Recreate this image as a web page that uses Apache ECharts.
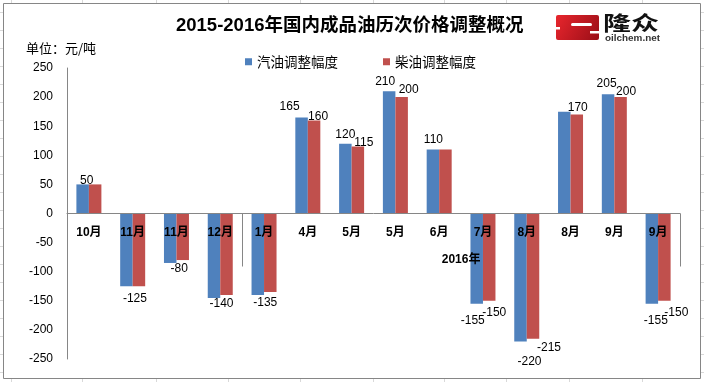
<!DOCTYPE html>
<html>
<head>
<meta charset="utf-8">
<script src="https://cdn.jsdelivr.net/npm/echarts@6/dist/echarts.min.js"></script>
<style>
  html, body { margin: 0; padding: 0; background: #fff; }
  #chart { width: 704px; height: 382px; }
</style>
</head>
<body>
<div id="chart"></div>
<script>
// ---- data ----
var categories = ['10月', '11月', '11月', '12月', '1月', '4月', '5月', '5月', '6月', '7月', '8月', '8月', '9月', '9月'];
var gasoline = [50, -125, -85, -145, -140, 165, 120, 210, 110, -155, -220, 175, 205, -155];
var diesel = [50, -125, -80, -140, -135, 160, 115, 200, 110, -150, -215, 170, 200, -150];
var yTicks = [-250, -200, -150, -100, -50, 0, 50, 100, 150, 200, 250];
var groupLabel = '2016年';
var groupBoundaries = [4, 14];
var groupLabelPos = [9];

// ---- label placement (style only): index -> [dx, distance] ----
var gasLabelPlace = {0: [4, 0], 1: [8.5, 4], 5: [-12, 7], 6: [0, 5], 7: [-4, 6], 8: [0.5, 6],
  9: [-4, 9], 10: [9, 12], 12: [-1.5, 7], 13: [4, 9]};
var dieselLabelPlace = {2: [-3.5, 1], 3: [-5, 1], 4: [-5, 3], 5: [4, 0], 6: [6, 0], 7: [7, 3],
  9: [5, 4], 10: [16, 1], 11: [1, 3], 12: [5.5, 1], 13: [12, 4]};

var numFont = "'Liberation Sans', 'Noto Sans CJK SC', sans-serif";
var cjkFont = "'Noto Sans CJK SC', 'Liberation Sans', sans-serif";

// plot geometry (style)
var G = { left: 67, right: 24, top: 68, bottom: 23, h: 382 };
var yMin = yTicks[0], yMax = yTicks[yTicks.length - 1];
var plotH = G.h - G.top - G.bottom;
var zeroY = G.top + plotH * (yMax / (yMax - yMin));

function buildSeriesData(values, place) {
  return values.map(function (v, i) {
    var p = place[i];
    if (!p) return { value: v, label: { show: false } };
    return {
      value: v,
      label: {
        show: true,
        position: v < 0 ? 'bottom' : 'top',
        distance: p[1],
        offset: [p[0], 2]
      }
    };
  });
}

var chart = echarts.init(document.getElementById('chart'), null, { renderer: 'canvas' });

// spreadsheet cell lines behind the chart area
var bgGraphics = [];
var colXs = [11, 82, 156, 228, 300, 373, 444, 506, 569, 642];
colXs.forEach(function (x) {
  bgGraphics.push({ type: 'line', z: -20, silent: true,
    shape: { x1: x + 0.5, y1: 0, x2: x + 0.5, y2: 382 }, style: { stroke: '#d9d9d9', lineWidth: 1 } });
});
for (var y = 12; y < 382; y += 18) {
  bgGraphics.push({ type: 'line', z: -20, silent: true,
    shape: { x1: 0, y1: y + 0.5, x2: 704, y2: y + 0.5 }, style: { stroke: '#d9d9d9', lineWidth: 1 } });
}
bgGraphics.push({ type: 'rect', z: -10, silent: true,
  shape: { x: 3.5, y: 3.5, width: 697, height: 375 },
  style: { fill: '#ffffff', stroke: '#868686', lineWidth: 1 } });

// logo
bgGraphics.push({
  type: 'group', z: 5, silent: true,
  children: [
    { type: 'rect', shape: { x: 556, y: 15, width: 43, height: 25, r: 2 },
      style: { fill: new echarts.graphic.LinearGradient(0, 0, 1, 1, [
        { offset: 0, color: '#e8262d' }, { offset: 1, color: '#9a0e17' }]) } },
    { type: 'rect', shape: { x: 571, y: 23, width: 21, height: 3, r: 1.5 }, style: { fill: '#ffffff' } },
    { type: 'rect', shape: { x: 590, y: 31, width: 9, height: 2.5 }, style: { fill: '#ffffff' } },
    { type: 'rect', shape: { x: 556, y: 27, width: 4, height: 2.5 }, style: { fill: '#ffffff' } },
    { type: 'text', x: 603, y: 13, scaleX: 1.4, originX: 0,
      style: { text: '隆众', font: "bold 20px 'Noto Sans CJK SC'", fill: '#111111' } },
    { type: 'text', x: 605, y: 34, scaleX: 1.1, originX: 0,
      style: { text: 'oilchem.net', font: "bold 9px 'Liberation Sans'", fill: '#333333' } }
  ]
});

var option = {
  animation: false,
  backgroundColor: '#ffffff',
  title: {
    text: '2015-2016年国内成品油历次价格调整概况',
    left: 176, top: 17, padding: 0,
    textStyle: { fontFamily: numFont, fontWeight: 'bold', fontSize: 18.5, color: '#000000' }
  },
  legend: {
    left: 240, top: 50,
    icon: 'rect', itemWidth: 7, itemHeight: 7, itemGap: 45,
    textStyle: { fontFamily: cjkFont, fontSize: 13.5, color: '#000000' },
    data: ['汽油调整幅度', '柴油调整幅度']
  },
  graphic: bgGraphics,
  grid: [
    { left: G.left, right: G.right, top: G.top, bottom: G.bottom, containLabel: false, outerBoundsMode: 'none' },
    { left: G.left, right: G.right, top: zeroY, height: 100, containLabel: false, outerBoundsMode: 'none' }
  ],
  xAxis: [
    {
      type: 'category', gridIndex: 0,
      data: categories,
      show: false
    },
    {
      type: 'category', gridIndex: 1,
      data: categories,
      position: 'top',
      z: 5,
      axisLine: { show: true, onZero: false, lineStyle: { color: '#868686', width: 1 } },
      axisTick: { show: false },
      axisLabel: { inside: true, interval: 0, margin: 13, fontFamily: numFont, fontWeight: 'bold', fontSize: 12, color: '#000000' },
      splitLine: { show: false }
    },
    {
      type: 'value', gridIndex: 1,
      min: 0, max: 14,
      position: 'top',
      z: 6,
      axisLine: { show: false, onZero: false },
      axisTick: { show: true, inside: true, length: 53, customValues: groupBoundaries,
        lineStyle: { color: '#868686', width: 1 } },
      axisLabel: { show: true, inside: true, customValues: groupLabelPos, margin: 40,
        formatter: function () { return groupLabel; },
        fontFamily: numFont, fontWeight: 'bold', fontSize: 12, color: '#000000' },
      splitLine: { show: false }
    }
  ],
  yAxis: [
    {
      type: 'value', gridIndex: 0,
      min: yMin, max: yMax, interval: 50,
      name: '单位：元/吨',
      nameLocation: 'end',
      nameGap: 13,
      nameTextStyle: { fontFamily: cjkFont, fontSize: 13, color: '#000000', align: 'center', padding: [0, 12, 0, 0] },
      axisLine: { show: true, lineStyle: { color: '#868686', width: 1 } },
      axisTick: { show: false },
      axisLabel: { margin: 14, fontFamily: numFont, fontSize: 12, color: '#000000' },
      splitLine: { show: false }
    },
    {
      type: 'value', gridIndex: 1, min: 0, max: 1, show: false
    }
  ],
  series: [
    {
      name: '汽油调整幅度',
      type: 'bar',
      xAxisIndex: 0, yAxisIndex: 0,
      barWidth: 12.5,
      barGap: '0%',
      itemStyle: { color: '#4f81bd' },
      label: { fontFamily: numFont, fontSize: 12, color: '#000000' },
      data: buildSeriesData(gasoline, gasLabelPlace)
    },
    {
      name: '柴油调整幅度',
      type: 'bar',
      xAxisIndex: 0, yAxisIndex: 0,
      barWidth: 12.5,
      barGap: '0%',
      itemStyle: { color: '#c0504d' },
      label: { fontFamily: numFont, fontSize: 12, color: '#000000' },
      data: buildSeriesData(diesel, dieselLabelPlace)
    }
  ]
};
chart.setOption(option);
</script>
</body>
</html>
